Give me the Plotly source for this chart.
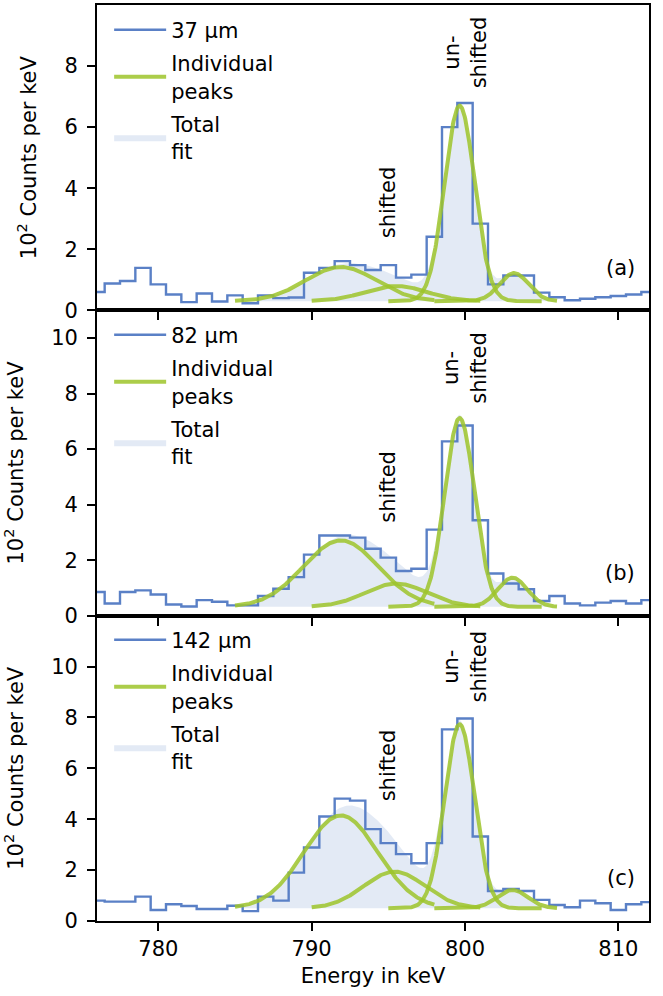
import numpy as np
import plotly.graph_objects as go
from plotly.subplots import make_subplots

# ---------------- data ----------------
ENERGY_KEV = list(range(776, 813))  # bin centres, 1 keV bins

COUNTS_37UM = [0.60, 0.88, 0.96, 1.39, 0.85, 0.52, 0.27, 0.55, 0.29, 0.49,
               0.23, 0.49, 0.40, 0.42, 1.23, 1.39, 1.61, 1.48, 1.32, 1.48,
               1.07, 1.17, 2.41, 6.00, 6.79, 2.84, 0.85, 1.14, 1.14, 0.58,
               0.43, 0.33, 0.38, 0.43, 0.47, 0.52, 0.60]
COUNTS_82UM = [0.85, 0.44, 0.85, 0.91, 0.76, 0.40, 0.33, 0.56, 0.50, 0.37,
               0.37, 0.71, 0.97, 1.39, 2.20, 2.89, 2.89, 2.81, 2.41, 2.09,
               1.61, 1.69, 3.10, 6.28, 6.85, 3.44, 1.52, 1.16, 0.95, 0.53,
               0.71, 0.44, 0.37, 0.47, 0.53, 0.44, 0.56]
COUNTS_142UM = [0.80, 0.76, 0.76, 0.96, 0.43, 0.66, 0.59, 0.47, 0.47, 0.60,
                0.39, 0.96, 0.80, 1.90, 2.89, 4.11, 4.81, 4.73, 3.61, 3.06,
                2.63, 2.27, 3.06, 7.53, 7.96, 3.32, 1.18, 1.26, 1.18, 0.83,
                0.63, 0.54, 0.80, 0.70, 0.43, 0.66, 0.74]

SERIES_LABELS = ["37 µm", "82 µm", "142 µm"]
PANEL_TAGS = ["(a)", "(b)", "(c)"]

# fitted peaks (shifted main, shifted second, unshifted, small) per panel
FIT_BASELINE = [0.30, 0.32, 0.50]
PEAK_CENTERS = [[791.9, 795.5, 799.65, 803.2],
                [791.9, 795.5, 799.65, 803.1],
                [791.9, 795.4, 799.65, 803.1]]
PEAK_AMPLITUDES = [[1.12, 0.50, 6.40, 0.92],
                   [2.39, 0.84, 6.80, 1.05],
                   [3.65, 1.44, 7.23, 0.72]]
PEAK_SIGMAS = [[2.3, 2.0, 0.98, 0.95],
               [2.45, 2.0, 0.97, 0.95],
               [2.4, 2.0, 0.97, 1.0]]
PEAK_RANGES = [(785.0, 798.0), (790.0, 801.0), (795.0, 805.0), (798.0, 806.0)]
TOTAL_RANGE = (785.0, 806.0)

# label positions (data coords) per panel
SHIFTED_POS = [(795.0, 3.55), (795.0, 4.66), (795.0, 6.13)]
UNSHIFTED_POS = [(800.0, 8.45), (800.0, 8.93), (800.0, 10.0)]
Y_MAX = [10, 11, 12]
Y_TICKS = [[0, 2, 4, 6, 8], [0, 2, 4, 6, 8, 10], [0, 2, 4, 6, 8, 10]]

# ---------------- styles ----------------
BLUE = "#5a80c6"
GREEN = "rgba(157,196,42,0.85)"
FILL = "rgba(90,128,198,0.17)"
FONT = "DejaVu Sans"
FS = 21

counts_all = [COUNTS_37UM, COUNTS_82UM, COUNTS_142UM]

fig = make_subplots(rows=3, cols=1, shared_xaxes=True, vertical_spacing=0)
legend_names = ["legend", "legend2", "legend3"]


def gauss(x, a, mu, s):
    return a * np.exp(-0.5 * ((x - mu) / s) ** 2)


for p in range(3):
    row = p + 1
    lg = legend_names[p]
    b = FIT_BASELINE[p]
    # total fit (filled from baseline)
    xt = np.linspace(TOTAL_RANGE[0], TOTAL_RANGE[1], 400)
    yt = b + sum(gauss(xt, a, m, s) for a, m, s in
                 zip(PEAK_AMPLITUDES[p], PEAK_CENTERS[p], PEAK_SIGMAS[p]))
    fig.add_trace(go.Scatter(x=xt, y=np.full_like(xt, b), mode="lines",
                             line=dict(width=0, color=FILL), showlegend=False,
                             hoverinfo="skip", legend=lg), row=row, col=1)
    fig.add_trace(go.Scatter(x=xt, y=yt, mode="lines", fill="tonexty",
                             fillcolor=FILL, line=dict(width=0, color=FILL),
                             name="Total<br>fit", legend=lg, legendrank=3,
                             legendgroup=f"t{p}"), row=row, col=1)
    # histogram
    fig.add_trace(go.Scatter(x=ENERGY_KEV, y=counts_all[p], mode="lines",
                             line=dict(shape="hvh", color=BLUE, width=2.4),
                             name=SERIES_LABELS[p], legend=lg, legendrank=1,
                             legendgroup=f"h{p}"), row=row, col=1)
    # individual peaks
    for k in range(4):
        lo, hi = PEAK_RANGES[k]
        xs = np.linspace(lo, hi, 300)
        ys = b + gauss(xs, PEAK_AMPLITUDES[p][k], PEAK_CENTERS[p][k], PEAK_SIGMAS[p][k])
        fig.add_trace(go.Scatter(x=xs, y=ys, mode="lines",
                                 line=dict(color=GREEN, width=4),
                                 name="Individual<br>peaks", legend=lg,
                                 legendrank=2, legendgroup=f"g{p}",
                                 showlegend=(k == 0)), row=row, col=1)

    yname = "y" if p == 0 else f"y{row}"
    xname = "x" if p == 0 else f"x{row}"
    fig.add_annotation(x=SHIFTED_POS[p][0], y=SHIFTED_POS[p][1], xref=xname, yref=yname,
                       text="shifted", textangle=-90, showarrow=False,
                       font=dict(family=FONT, size=FS, color="black"))
    fig.add_annotation(x=UNSHIFTED_POS[p][0], y=UNSHIFTED_POS[p][1], xref=xname, yref=yname,
                       text="un-<br>shifted", textangle=-90, showarrow=False,
                       font=dict(family=FONT, size=FS, color="black"))
    fig.add_annotation(x=0.978, y=0.14, xref=f"{xname} domain", yref=f"{yname} domain",
                       text=PANEL_TAGS[p], showarrow=False, xanchor="right",
                       yanchor="middle", font=dict(family=FONT, size=FS, color="black"))

    fig.update_yaxes(row=row, col=1, range=[0, Y_MAX[p]], tickvals=Y_TICKS[p],
                     title=dict(text="10<sup>2</sup> Counts per keV",
                                font=dict(family=FONT, size=FS, color="black"),
                                standoff=22),
                     showline=True, linecolor="black", linewidth=1.8, mirror=True,
                     ticks="outside", ticklen=8, tickwidth=1.6, tickcolor="black",
                     ticklabelstandoff=5, automargin=False,
                     showgrid=False, zeroline=False,
                     tickfont=dict(family=FONT, size=FS, color="black"))
    fig.update_xaxes(row=row, col=1, range=[776, 812], tickvals=[780, 790, 800, 810],
                     showline=True, linecolor="black", linewidth=1.8, mirror=True,
                     ticks="outside", ticklen=8, tickwidth=1.6, tickcolor="black",
                     automargin=False,
                     showgrid=False, zeroline=False, showticklabels=(p == 2),
                     tickfont=dict(family=FONT, size=FS, color="black"))

fig.update_xaxes(row=3, col=1, title=dict(text="Energy in keV", standoff=8,
                                          font=dict(family=FONT, size=FS, color="black")))

legend_style = dict(x=0.022, xanchor="left", yanchor="top", bgcolor="rgba(0,0,0,0)",
                    font=dict(family=FONT, size=FS, color="black"),
                    traceorder="grouped", tracegroupgap=3, itemwidth=52)
fig.update_layout(
    width=663, height=996,
    margin=dict(l=97, r=14, t=5, b=75),
    plot_bgcolor="white", paper_bgcolor="white",
    font=dict(family=FONT, size=FS, color="black"),
    legend=dict(y=0.995, **legend_style),
    legend2=dict(y=0.662, **legend_style),
    legend3=dict(y=0.329, **legend_style),
)

fig.write_html("out.html", config={"displayModeBar": False},
               post_script="document.body.style.margin='0';")
